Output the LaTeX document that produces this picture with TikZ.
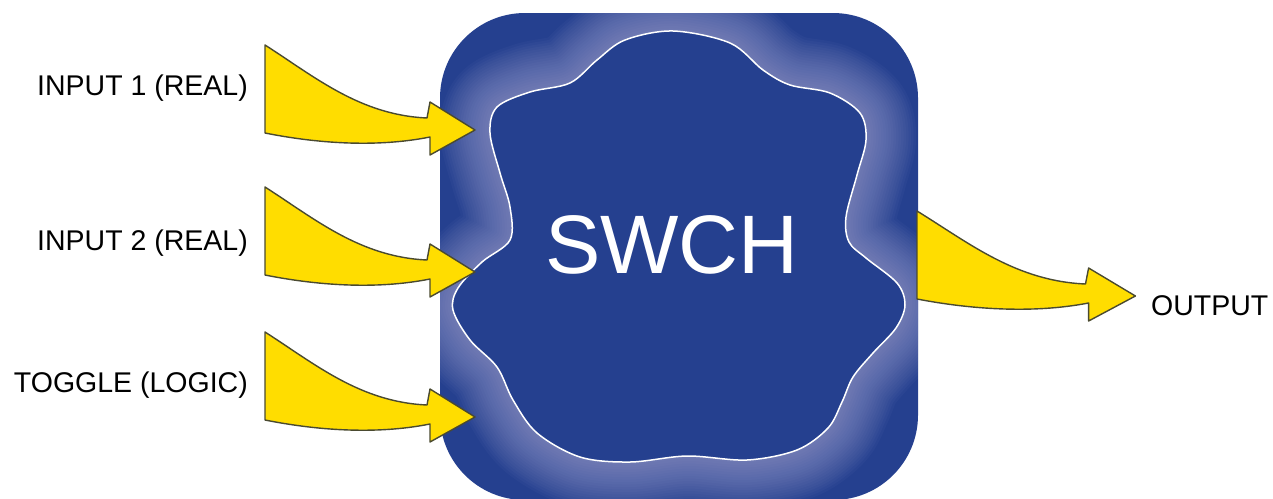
\documentclass[tikz,border=0pt]{standalone}
\usepackage{fontspec}
\setmainfont{Liberation Sans}
\definecolor{boxblue}{HTML}{25408F}
\definecolor{glow}{HTML}{ACACD8}
\definecolor{arrowyellow}{HTML}{FFDD00}
\definecolor{arrowedge}{HTML}{4A4A30}
\tikzset{
  lbl/.style={font=\fontsize{28.5}{30}\selectfont, inner sep=0pt, text=black},
  yarrow/.pic={\draw[arrowedge, line width=1.4pt, fill=arrowyellow, line join=round]
     (0,0) .. controls (50,32) and (95,70) .. (162,73) -- (165,57) -- (210,85)
     -- (165,110) -- (165,92) .. controls (110,103) and (50,98) .. (0,88) -- cycle;}
}
\def\blob{plot[smooth cycle, tension=0.55] coordinates {
(673,31) (730,43) (763,70) (790,85) (830,93) (860,113) (866,140) (857,175) (846,217)
(849,242) (866,258) (897,283) (905,305) (896,328) (873,353) (853,377) (842,402)
(828,428) (797,450) (747,460) (687,456) (630,462) (580,457) (537,433) (513,400)
(497,367) (470,340) (453,310) (458,288) (482,262) (510,240) (510,207) (500,173)
(490,133) (497,107) (530,92) (570,83) (597,60) (625,40)}}
\begin{document}
\begin{tikzpicture}[x=1pt, y=-1pt]
\useasboundingbox (0,0) rectangle (1273,498);
% box
\fill[boxblue, rounded corners=85] (440,13) rectangle (918,500);
\begin{scope}
  \clip[rounded corners=85] (440,13) rectangle (918,500);
  \foreach \w in {100,95,...,5}
    \draw[glow, line width=\w pt, opacity=0.042, line join=round] \blob;
\end{scope}
\fill[boxblue] \blob;
\draw[white, line width=1.5pt] \blob;
\node[font=\fontsize{83}{90}\selectfont, text=white, inner sep=0pt] (swch) at (672,245) {SWCH};
% arrows
\pic at (265,45) {yarrow};
\pic at (265,187) {yarrow};
\pic at (265,332) {yarrow};
\pic[xscale=1.04] at (917,211) {yarrow};
% labels
\node[lbl, anchor=east] (in1) at (248,88) {INPUT 1 (REAL)};
\node[lbl, anchor=east] (in2) at (248,243) {INPUT 2 (REAL)};
\node[lbl, anchor=east] (tog) at (248,385) {TOGGLE (LOGIC)};
\node[lbl, anchor=west] (out) at (1151,306) {OUTPUT};
\end{tikzpicture}
\end{document}
